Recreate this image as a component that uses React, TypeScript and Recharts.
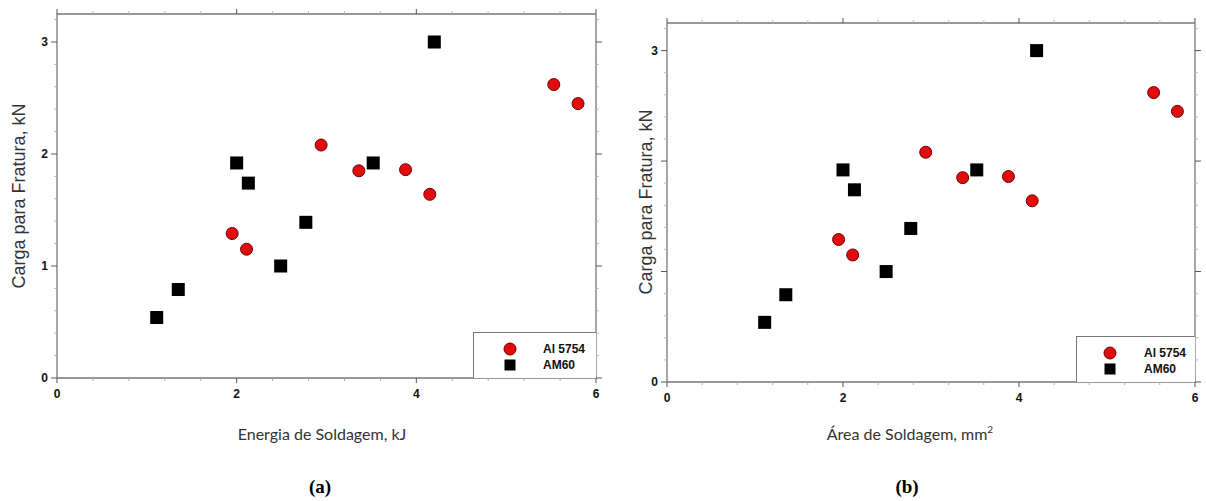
import { ScatterChart, Scatter, XAxis, YAxis, Legend } from 'recharts';

// tick positions and labels
const xTicks = [0, 0.4, 0.8, 1.2, 1.6, 2, 2.4, 2.8, 3.2, 3.6, 4, 4.4, 4.8, 5.2, 5.6, 6];
const xLabels = [0, 2, 4, 6];
const yTicks = [0, 0.2, 0.4, 0.6, 0.8, 1, 1.2, 1.4, 1.6, 1.8, 2, 2.2, 2.4, 2.6, 2.8, 3, 3.2];
const yLabelsA = [0, 1, 2, 3];
const yLabelsB = [0, 3];

const seriesNames = ['Al 5754', 'AM60'];

// Al 5754 (red circles)
const al5754X = [1.95, 2.11, 2.94, 3.36, 3.88, 4.15, 5.53, 5.8];
const al5754Y = [1.29, 1.15, 2.08, 1.85, 1.86, 1.64, 2.62, 2.45];
// AM60 (black squares)
const am60X = [1.11, 1.35, 2.0, 2.13, 2.49, 2.77, 3.52, 4.2];
const am60Y = [0.54, 0.79, 1.92, 1.74, 1.0, 1.39, 1.92, 3.0];

const al5754 = al5754X.map((x, i) => ({ x, y: al5754Y[i] }));
const am60 = am60X.map((x, i) => ({ x, y: am60Y[i] }));

const tickFont = {
  fontFamily: "'Liberation Sans Narrow', 'Liberation Sans', Arial, sans-serif",
  fontWeight: 700,
  fontSize: 12,
  fill: '#111',
};

const isMajorY = (v: number) => Math.abs(v - Math.round(v)) < 1e-6;
const isMajorX = (v: number) => xLabels.some((l) => Math.abs(l - v) < 1e-6);

const BottomTick = (props: any) => {
  const { x, y, payload } = props;
  const major = isMajorX(payload.value);
  return (
    <g>
      <line x1={x} y1={y} x2={x} y2={y + (major ? 5 : 3)} stroke={major ? '#555' : '#aaa'} />
      {major && (
        <text x={x} y={y + 20} textAnchor="middle" style={tickFont}>
          {payload.value}
        </text>
      )}
    </g>
  );
};

const TopTick = (props: any) => {
  const { x, y, payload } = props;
  const major = isMajorX(payload.value);
  return <line x1={x} y1={y} x2={x} y2={y - (major ? 5 : 3)} stroke={major ? '#555' : '#bbb'} />;
};

const makeLeftTick = (labels: number[]) => (props: any) => {
  const { x, y, payload } = props;
  const major = isMajorY(payload.value);
  const show = labels.some((l) => Math.abs(l - payload.value) < 1e-6);
  return (
    <g>
      <line x1={x} y1={y} x2={x - (major ? 6 : 3)} y2={y} stroke={major ? '#555' : '#bbb'} />
      {show && (
        <text x={x - 9} y={y + 4} textAnchor="end" style={tickFont}>
          {payload.value}
        </text>
      )}
    </g>
  );
};

const RightTick = (props: any) => {
  const { x, y, payload } = props;
  const major = isMajorY(payload.value);
  return <line x1={x} y1={y} x2={x + (major ? 6 : 3)} y2={y} stroke={major ? '#555' : '#bbb'} />;
};

const RedDot = (p: any) => (
  <circle cx={p.cx} cy={p.cy} r={6} fill="#e10d0d" stroke="#6e0000" strokeWidth={1} />
);
const BlackSquare = (p: any) => <rect x={p.cx - 6.5} y={p.cy - 6.5} width={13} height={13} fill="#000" />;

const makeLegend = (markerX: number, textX: number) => () => (
  <div
    style={{
      position: 'relative',
      width: '100%',
      height: '100%',
      boxSizing: 'border-box',
      borderTop: '1px solid #777',
      borderLeft: '1px solid #777',
      background: '#fff',
    }}
  >
    {seriesNames.map((name, i) => {
      const cy = 16 + i * 16;
      return (
        <div key={name}>
          <svg style={{ position: 'absolute', left: markerX - 7, top: cy - 7 }} width={14} height={14}>
            {i === 0 ? (
              <circle cx={7} cy={7} r={6} fill="#e10d0d" stroke="#6e0000" />
            ) : (
              <rect x={1.5} y={1.5} width={11} height={11} fill="#000" />
            )}
          </svg>
          <span
            style={{
              position: 'absolute',
              left: textX,
              top: cy - 8,
              fontFamily: "'Liberation Sans', Arial, sans-serif",
              fontWeight: 700,
              fontSize: 12,
              lineHeight: '16px',
              color: '#111',
              whiteSpace: 'nowrap',
            }}
          >
            {name}
          </span>
        </div>
      );
    })}
  </div>
);

type PanelProps = {
  left: number;
  width: number;
  margin: { top: number; right: number; bottom: number; left: number };
  yLabels: number[];
  legendBox: { left: number; top: number; width: number; height: number };
  markerX: number;
  textX: number;
};

const axisLine = { stroke: '#777', strokeWidth: 1.3 };

const Panel = ({ left, width, margin, yLabels, legendBox, markerX, textX }: PanelProps) => (
  <div style={{ position: 'absolute', left, top: 0 }}>
    <ScatterChart width={width} height={501} margin={margin}>
      <XAxis
        type="number"
        dataKey="x"
        domain={[0, 6]}
        ticks={xTicks}
        interval={0}
        height={30}
        tickSize={0}
        tickMargin={0}
        tickLine={false}
        axisLine={axisLine}
        tick={BottomTick}
        allowDataOverflow
      />
      <XAxis
        xAxisId="top"
        orientation="top"
        type="number"
        dataKey="x"
        domain={[0, 6]}
        ticks={xTicks}
        interval={0}
        height={10}
        tickSize={0}
        tickMargin={0}
        tickLine={false}
        axisLine={axisLine}
        tick={TopTick}
        allowDataOverflow
      />
      <YAxis
        type="number"
        dataKey="y"
        domain={[0, 3.25]}
        ticks={yTicks.filter((t) => t <= 3.25)}
        interval={0}
        width={30}
        tickSize={0}
        tickMargin={0}
        tickLine={false}
        axisLine={axisLine}
        tick={makeLeftTick(yLabels)}
        allowDataOverflow
      />
      <YAxis
        yAxisId="right"
        orientation="right"
        type="number"
        dataKey="y"
        domain={[0, 3.25]}
        ticks={yTicks.filter((t) => t <= 3.25)}
        interval={0}
        width={10}
        tickSize={0}
        tickMargin={0}
        tickLine={false}
        axisLine={axisLine}
        tick={RightTick}
        allowDataOverflow
      />
      <Legend
        layout="horizontal"
        verticalAlign="middle"
        content={makeLegend(markerX, textX)}
        wrapperStyle={{ ...legendBox, position: 'absolute' }}
      />
      <Scatter name="Al 5754" data={al5754} fill="#e10d0d" shape={RedDot} isAnimationActive={false} />
      <Scatter name="AM60" data={am60} fill="#000" shape={BlackSquare} isAnimationActive={false} />
      {/* empty series so the top/right frame axes get a domain */}
      <Scatter data={[]} xAxisId="top" yAxisId="right" legendType="none" isAnimationActive={false} />
    </ScatterChart>
  </div>
);

const yTitle: React.CSSProperties = {
  position: 'absolute',
  transform: 'translate(-50%, -50%) rotate(-90deg)',
  whiteSpace: 'nowrap',
  fontFamily: "'Liberation Sans', Arial, sans-serif",
  fontSize: 18,
  color: '#333',
};
const xTitle: React.CSSProperties = {
  position: 'absolute',
  transform: 'translate(-50%, -50%)',
  whiteSpace: 'nowrap',
  fontFamily: 'Lato, sans-serif',
  fontSize: 16,
  color: '#333',
};
const caption: React.CSSProperties = {
  position: 'absolute',
  transform: 'translate(-50%, -50%)',
  fontFamily: "'Liberation Serif', 'Times New Roman', serif",
  fontWeight: 700,
  fontSize: 19,
  color: '#000',
};

export default function App() {
  return (
    <div style={{ position: 'absolute', left: 0, top: 0, width: 1206, height: 501, background: '#fff', overflow: 'hidden' }}>
      <Panel
        left={0}
        width={610}
        margin={{ top: 4, right: 4, bottom: 93, left: 27 }}
        yLabels={yLabelsA}
        legendBox={{ left: 473, top: 332, width: 123, height: 46 }}
        markerX={36}
        textX={69}
      />
      <Panel
        left={600}
        width={606}
        margin={{ top: 13, right: 1, bottom: 89, left: 37 }}
        yLabels={yLabelsB}
        legendBox={{ left: 476, top: 336, width: 119, height: 46 }}
        markerX={33}
        textX={67}
      />
      <div style={{ ...yTitle, left: 19, top: 196 }}>Carga para Fratura, kN</div>
      <div style={{ ...yTitle, left: 646, top: 202 }}>Carga para Fratura, kN</div>
      <div style={{ ...xTitle, left: 322, top: 433 }}>Energia de Soldagem, kJ</div>
      <div style={{ ...xTitle, left: 910, top: 433 }}>
        Área de Soldagem, mm<sup style={{ fontSize: 10 }}>2</sup>
      </div>
      <div style={{ ...caption, left: 320, top: 487 }}>(a)</div>
      <div style={{ ...caption, left: 907, top: 487 }}>(b)</div>
    </div>
  );
}
